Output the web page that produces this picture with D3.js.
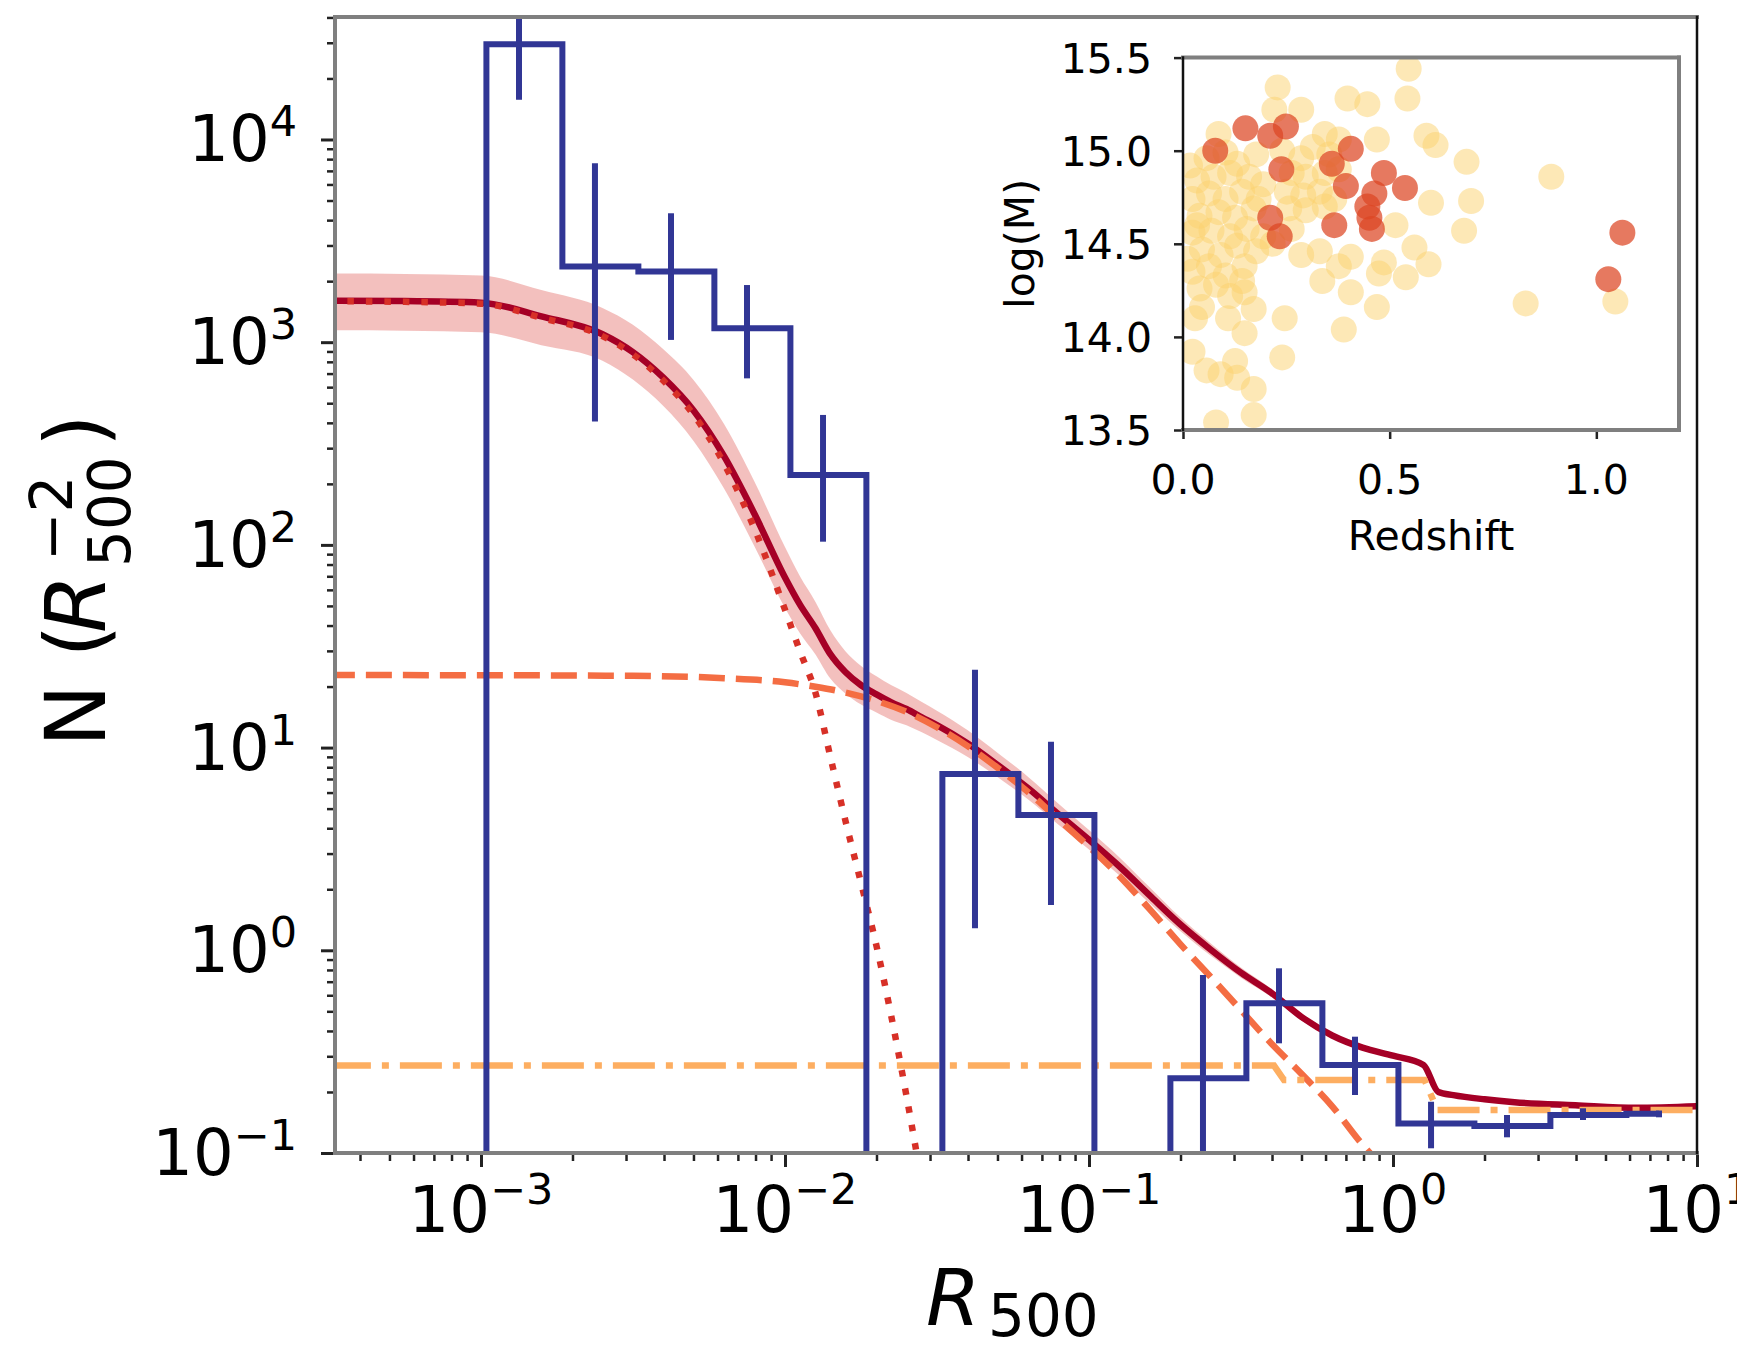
<!DOCTYPE html>
<html>
<head>
<meta charset="utf-8">
<script src="https://d3js.org/d3.v7.min.js"></script>
<style>
  html, body { margin: 0; padding: 0; background: #ffffff; }
  svg { display: block; }
  text { font-family: "DejaVu Sans", sans-serif; fill: #000; }
</style>
</head>
<body>
<svg id="fig" width="1737" height="1349"></svg>
<script>
// ---------------- stacked radial profile (R in units of R500) ----------------
const binCentreR = [7.50e-4, 1.334e-3, 2.371e-3, 4.217e-3, 7.499e-3, 1.334e-2, 2.371e-2,
  4.217e-2, 7.499e-2, 0.1334, 0.2371, 0.4217, 0.7499, 1.334, 2.371, 4.217, 7.499];
const binCount = [0, 2.95e4, 2360, 2230, 1170, 221, 0, 7.41, 4.65, 0, 0.234, 0.548,
  0.272, 0.140, 0.136, 0.154, 0.156];
const binErrLow = [null, 1.57e4, 405.6, 1026, 663, 103.7, null, 1.284, 1.673, null,
  0.001, 0.3476, 0.1932, 0.1055, 0.1195, 0.1455, 0.150];
const binErrHigh = [null, 6.0e4, 7630, 4325, 1914, 437.6, null, 24.2, 10.7, null,
  0.755, 0.815, 0.3748, 0.179, 0.154, 0.1662, 0.162];

// ---------------- best-fit model: total, 68% band ----------------
const modelR = [3.16e-4, 5.62e-4, 1.0e-3, 1.58e-3, 2.51e-3, 3.16e-3, 3.98e-3, 5.01e-3,
  6.31e-3, 7.94e-3, 0.0100, 0.0112, 0.0126, 0.0141, 0.0158, 0.0178, 0.0200, 0.0224,
  0.0251, 0.0282, 0.0316, 0.0398, 0.0501, 0.0631, 0.0794, 0.100, 0.126, 0.158, 0.200,
  0.251, 0.316, 0.398, 0.501, 0.631, 0.794, 1.00, 1.26, 1.41, 1.58, 2.00, 2.51, 3.98,
  6.31, 10.0];
const modelTotal = [1603, 1596, 1567, 1340, 1094, 893, 668, 459, 273, 142, 69.0, 50.7,
  38.8, 28.9, 23.6, 20.3, 18.3, 16.7, 15.5, 14.1, 12.9, 10.5, 8.2, 6.3, 4.69, 3.51,
  2.59, 1.87, 1.34, 1.01, 0.776, 0.617, 0.468, 0.380, 0.331, 0.302, 0.272, 0.200,
  0.193, 0.184, 0.178, 0.172, 0.167, 0.170];
const bandLow = [1145, 1140, 1119, 967, 811, 654, 484, 325, 189, 98.3, 48.8, 36.7, 28.8,
  21.9, 18.5, 16.3, 14.9, 13.7, 12.9, 11.9, 10.9, 9.02, 7.14, 5.54, 4.16, 3.14, 2.34,
  1.71, 1.24, 0.942, 0.733, 0.589, 0.451, 0.369, 0.323, 0.295, 0.266, 0.196, 0.189,
  0.180, 0.174, 0.168, 0.163, 0.166];
const bandHigh = [2180, 2171, 2131, 1808, 1476, 1219, 922, 649, 394, 205, 97.5, 70.0,
  52.3, 37.9, 29.9, 25.3, 22.5, 20.3, 18.6, 16.8, 15.2, 12.2, 9.41, 7.17, 5.29, 3.92,
  2.87, 2.05, 1.45, 1.083, 0.822, 0.646, 0.486, 0.391, 0.340, 0.309, 0.278, 0.204,
  0.197, 0.188, 0.182, 0.176, 0.171, 0.174];

// ---------------- model components ----------------
const coreR = [3.16e-4, 5.62e-4, 1.0e-3, 1.58e-3, 2.51e-3, 3.16e-3, 3.98e-3, 5.01e-3,
  6.31e-3, 7.94e-3, 0.0100, 0.0112, 0.0126, 0.0141, 0.0158, 0.0178, 0.0200, 0.0224,
  0.0251, 0.0282];
const coreN = [1592, 1581, 1549, 1318, 1072, 871, 646, 437, 251, 120, 47.9, 29.9, 18.6,
  9.02, 4.37, 2.14, 1.05, 0.468, 0.191, 0.0708];

const outerR = [3.16e-4, 1.0e-3, 3.16e-3, 6.31e-3, 0.0100, 0.0126, 0.0158, 0.0200,
  0.0251, 0.0316, 0.0398, 0.0501, 0.0631, 0.0794, 0.100, 0.126, 0.158, 0.200, 0.251,
  0.316, 0.398, 0.501, 0.631, 0.794, 1.00];
const outerN = [22.8, 22.75, 22.6, 22.0, 21.0, 19.95, 18.7, 17.0, 15.0, 12.6, 10.2,
  7.94, 6.03, 4.42, 3.24, 2.32, 1.60, 1.07, 0.741, 0.507, 0.347, 0.245, 0.170, 0.110,
  0.0759];

const backgroundR = [3.16e-4, 0.406, 0.438, 1.27, 1.40, 10.0];
const backgroundN = [0.270, 0.270, 0.229, 0.229, 0.163, 0.163];

// ---------------- axis ticks ----------------
const xMajorTicks = [1e-3, 1e-2, 1e-1, 1, 10];
const xTickExponents = ["\u22123", "\u22122", "\u22121", "0", "1"];
const yMajorTicks = [1e-1, 1, 10, 100, 1000, 10000];
const yTickExponents = ["\u22121", "0", "1", "2", "3", "4"];

// ---------------- inset: cluster sample (redshift, log mass) ----------------
const sampleAll = [
  [0.546,15.44],[0.543,15.28],[0.229,15.34],[0.221,15.22],[0.286,15.22],[0.398,15.28],
  [0.446,15.25],[0.469,15.06],[0.589,15.08],[0.611,15.03],[0.686,14.94],[0.891,14.86],
  [0.600,14.72],[0.697,14.73],[0.680,14.57],[0.514,14.60],[0.560,14.48],[0.594,14.39],
  [0.539,14.32],[0.486,14.40],[0.474,14.34],[0.406,14.43],[0.337,14.30],[0.406,14.24],
  [0.469,14.16],[0.389,14.04],[0.246,14.10],[0.240,13.89],[0.286,14.44],[0.331,14.46],
  [0.829,14.18],[1.046,14.19],[0.171,13.72],[0.171,13.58],[0.080,13.54],[0.023,13.92],
  [0.057,13.82],[0.091,13.80],[0.126,13.87],[0.131,13.78],[0.149,14.02],[0.109,14.10],
  [0.171,14.15],[0.149,14.24],[0.046,14.16],[0.029,14.10],[0.011,14.42],[0.034,14.60],
  [0.377,14.38],[0.343,15.09],[0.377,15.06],[0.086,15.09],
  [0.017,14.92],[0.057,14.96],[0.103,14.99],[0.131,14.93],[0.177,14.98],[0.240,15.00],
  [0.286,14.96],[0.314,15.02],[0.354,14.98],[0.034,14.84],[0.074,14.86],[0.114,14.88],
  [0.160,14.86],[0.194,14.82],[0.263,14.88],[0.297,14.86],[0.343,14.88],[0.377,14.90],
  [0.023,14.74],[0.063,14.77],[0.103,14.74],[0.143,14.78],[0.183,14.74],[0.251,14.78],
  [0.291,14.76],[0.331,14.78],[0.366,14.74],[0.040,14.65],[0.086,14.67],[0.126,14.64],
  [0.171,14.69],[0.257,14.69],[0.297,14.68],[0.343,14.70],[0.023,14.56],[0.069,14.57],
  [0.114,14.54],[0.154,14.58],[0.194,14.54],[0.263,14.58],[0.046,14.47],[0.091,14.44],
  [0.131,14.49],[0.177,14.46],[0.217,14.50],[0.023,14.35],[0.063,14.38],[0.103,14.33],
  [0.149,14.38],[0.040,14.26],[0.080,14.28],[0.114,14.22],[0.143,14.30]
];
const sampleSelected = [
  [0.078,15.00],[0.151,15.12],[0.211,15.08],[0.249,15.13],[0.238,14.90],[0.406,15.01],
  [0.360,14.93],[0.394,14.81],[0.486,14.88],[0.537,14.80],[0.463,14.77],[0.446,14.70],
  [0.451,14.64],[0.457,14.58],[0.211,14.64],[0.234,14.54],[0.366,14.60],[1.063,14.56],
  [1.029,14.31]
];
const insetXTicks = [0.0, 0.5, 1.0];
const insetYTicks = [13.5, 14.0, 14.5, 15.0, 15.5];

// ============================ drawing ============================
const svg = d3.select("#fig");
const P = { left: 335, right: 1697, top: 17, bottom: 1153 };

const x = d3.scaleLog().domain([3.31e-4, 10]).range([P.left, P.right]);
const y = d3.scaleLog().domain([0.1, 4.02e4]).range([P.bottom, P.top]);
const floorN = 1e-3;               // empty bins are drawn off the bottom of the axes
const yc = v => y(Math.max(v, floorN));

svg.append("defs").append("clipPath").attr("id", "plotClip")
  .append("rect").attr("x", P.left).attr("y", P.top)
  .attr("width", P.right - P.left).attr("height", P.bottom - P.top);

const plotArea = svg.append("g").attr("clip-path", "url(#plotClip)");

// confidence band
const band = d3.area()
  .x((d, i) => x(modelR[i]))
  .y0((d, i) => y(bandLow[i]))
  .y1((d, i) => y(bandHigh[i]))
  .curve(d3.curveMonotoneX);
plotArea.append("path").datum(modelR).attr("d", band)
  .attr("fill", "#d73027").attr("fill-opacity", 0.3).attr("stroke", "none");

const curve = (rs, ns, c) => d3.line()
  .x((d, i) => x(rs[i])).y((d, i) => y(ns[i])).curve(c || d3.curveMonotoneX)(rs);

// total model
plotArea.append("path").attr("d", curve(modelR, modelTotal))
  .attr("fill", "none").attr("stroke", "#a50026").attr("stroke-width", 6.5)
  .attr("stroke-linejoin", "round");

// core component (dotted)
plotArea.append("path").attr("d", curve(coreR, coreN))
  .attr("fill", "none").attr("stroke", "#d73027").attr("stroke-width", 6.5)
  .attr("stroke-dasharray", "6.5,12");

// extended component (dashed)
plotArea.append("path").attr("d", curve(outerR, outerN))
  .attr("fill", "none").attr("stroke", "#f46d43").attr("stroke-width", 6.5)
  .attr("stroke-dasharray", "26,11");

// background level (dash-dot)
plotArea.append("path").attr("d", curve(backgroundR, backgroundN, d3.curveLinear))
  .attr("fill", "none").attr("stroke", "#fdae61").attr("stroke-width", 6.5)
  .attr("stroke-dasharray", "42,11,7,11");

// measured profile: steps at linear mid-points between bin centres
const steps = d3.path();
steps.moveTo(x(binCentreR[0]), yc(binCount[0]));
for (let i = 1; i < binCentreR.length; i++) {
  const xm = x((binCentreR[i - 1] + binCentreR[i]) / 2);
  steps.lineTo(xm, yc(binCount[i - 1]));
  steps.lineTo(xm, yc(binCount[i]));
}
steps.lineTo(x(binCentreR[binCentreR.length - 1]), yc(binCount[binCount.length - 1]));
plotArea.append("path").attr("d", steps.toString())
  .attr("fill", "none").attr("stroke", "#313695").attr("stroke-width", 6)
  .attr("stroke-linejoin", "miter");

plotArea.selectAll("line.err")
  .data(binCentreR.map((r, i) => ({ r, lo: binErrLow[i], hi: binErrHigh[i] }))
    .filter(d => d.lo !== null))
  .join("line").attr("class", "err")
  .attr("x1", d => x(d.r)).attr("x2", d => x(d.r))
  .attr("y1", d => yc(d.lo)).attr("y2", d => yc(d.hi))
  .attr("stroke", "#313695").attr("stroke-width", 6);

// ---------------- axes ----------------
const tickColor = "#222";
function styleTicks(g, width) {
  g.select(".domain").remove();
  g.selectAll(".tick line").attr("stroke", tickColor).attr("stroke-width", width);
  g.selectAll(".tick text").remove();
}
const xMinor = x.ticks().filter(v => !xMajorTicks.some(m => Math.abs(m - v) / m < 1e-6));
const yMinor = y.ticks().filter(v => !yMajorTicks.some(m => Math.abs(m - v) / m < 1e-6));

svg.append("g").attr("transform", `translate(0,${P.bottom})`)
  .call(d3.axisBottom(x).tickValues(xMinor).tickSize(8).tickFormat(""))
  .call(g => styleTicks(g, 2.5));
svg.append("g").attr("transform", `translate(0,${P.bottom})`)
  .call(d3.axisBottom(x).tickValues(xMajorTicks).tickSize(14).tickFormat(""))
  .call(g => styleTicks(g, 3));
svg.append("g").attr("transform", `translate(${P.left},0)`)
  .call(d3.axisLeft(y).tickValues(yMinor).tickSize(8).tickFormat(""))
  .call(g => styleTicks(g, 2.5));
svg.append("g").attr("transform", `translate(${P.left},0)`)
  .call(d3.axisLeft(y).tickValues(yMajorTicks).tickSize(14).tickFormat(""))
  .call(g => styleTicks(g, 3));

// spines
const spine = (x1, y1, x2, y2, col, w) => svg.append("line")
  .attr("x1", x1).attr("y1", y1).attr("x2", x2).attr("y2", y2)
  .attr("stroke", col).attr("stroke-width", w).attr("stroke-linecap", "square");
spine(P.left, P.top, P.right, P.top, "#7f7f7f", 4);
spine(P.left, P.top, P.left, P.bottom, "#7f7f7f", 4);
spine(P.left, P.bottom, P.right, P.bottom, "#7f7f7f", 4);
spine(P.right, P.top, P.right, P.bottom, "#111", 2.5);

// tick labels as 10^n
xMajorTicks.forEach((v, i) => {
  const t = svg.append("text").attr("x", x(v)).attr("y", 1232)
    .attr("text-anchor", "middle").attr("font-size", 64);
  t.append("tspan").text("10");
  t.append("tspan").attr("font-size", 43).attr("dy", -28).text(xTickExponents[i]);
});
yMajorTicks.forEach((v, i) => {
  const t = svg.append("text").attr("x", 297).attr("y", y(v) + 22)
    .attr("text-anchor", "end").attr("font-size", 64);
  t.append("tspan").text("10");
  t.append("tspan").attr("font-size", 43).attr("dy", -25).text(yTickExponents[i]);
});

// axis titles
svg.append("text").attr("x", 926).attr("y", 1325).attr("font-size", 78)
  .attr("font-style", "italic").text("R");
svg.append("text").attr("x", 988).attr("y", 1336).attr("font-size", 58).text("500");

const yl = svg.append("g").attr("transform", "translate(105,586) rotate(-90)");
yl.append("text").attr("x", -161).attr("y", 0).attr("font-size", 84).text("N (");
yl.append("text").attr("x", -47).attr("y", 0).attr("font-size", 84)
  .attr("font-style", "italic").text("R");
yl.append("text").attr("x", 25).attr("y", -33).attr("font-size", 58).text("\u22122");
yl.append("text").attr("x", 19).attr("y", 25).attr("font-size", 58).text("500");
yl.append("text").attr("x", 139).attr("y", 0).attr("font-size", 84).text(")");

// ---------------- inset ----------------
const I = { left: 1183, right: 1679, top: 57.6, bottom: 430 };
const ix = d3.scaleLinear().domain([0, 1.2]).range([I.left, I.right]);
const iy = d3.scaleLinear().domain([13.5, 15.5]).range([I.bottom, I.top]);

svg.append("rect").attr("x", I.left).attr("y", I.top)
  .attr("width", I.right - I.left).attr("height", I.bottom - I.top).attr("fill", "#fff");
svg.select("defs").append("clipPath").attr("id", "insetClip")
  .append("rect").attr("x", I.left).attr("y", I.top)
  .attr("width", I.right - I.left).attr("height", I.bottom - I.top);
const inset = svg.append("g").attr("clip-path", "url(#insetClip)");

inset.selectAll("circle.all").data(sampleAll).join("circle").attr("class", "all")
  .attr("cx", d => ix(d[0])).attr("cy", d => iy(d[1])).attr("r", 13)
  .attr("fill", "#fcd26e").attr("fill-opacity", 0.5);
inset.selectAll("circle.sel").data(sampleSelected).join("circle").attr("class", "sel")
  .attr("cx", d => ix(d[0])).attr("cy", d => iy(d[1])).attr("r", 13)
  .attr("fill", "#dc4522").attr("fill-opacity", 0.72);

svg.append("g").attr("transform", `translate(0,${I.bottom})`)
  .call(d3.axisBottom(ix).tickValues(insetXTicks).tickSize(9).tickFormat(""))
  .call(g => styleTicks(g, 2.5));
svg.append("g").attr("transform", `translate(${I.left},0)`)
  .call(d3.axisLeft(iy).tickValues(insetYTicks).tickSize(9).tickFormat(""))
  .call(g => styleTicks(g, 2.5));

spine(I.left, I.top, I.right, I.top, "#7f7f7f", 4);
spine(I.right, I.top, I.right, I.bottom, "#7f7f7f", 4);
spine(I.left, I.bottom, I.right, I.bottom, "#7f7f7f", 4);
spine(I.left, I.top, I.left, I.bottom, "#111", 2.5);

insetXTicks.forEach(v => svg.append("text").attr("x", ix(v)).attr("y", 494)
  .attr("text-anchor", "middle").attr("font-size", 41).attr("fill", "#222")
  .text(d3.format(".1f")(v)));
insetYTicks.forEach(v => svg.append("text").attr("x", 1152).attr("y", iy(v) + 15)
  .attr("text-anchor", "end").attr("font-size", 41).attr("fill", "#222")
  .text(d3.format(".1f")(v)));
svg.append("text").attr("x", ix(0.6)).attr("y", 550).attr("text-anchor", "middle")
  .attr("font-size", 41).attr("fill", "#222").text("Redshift");
svg.append("text").attr("transform", `translate(1034,${(I.top + I.bottom) / 2}) rotate(-90)`)
  .attr("text-anchor", "middle").attr("font-size", 41).attr("fill", "#222").text("log(M)");
</script>
</body>
</html>
